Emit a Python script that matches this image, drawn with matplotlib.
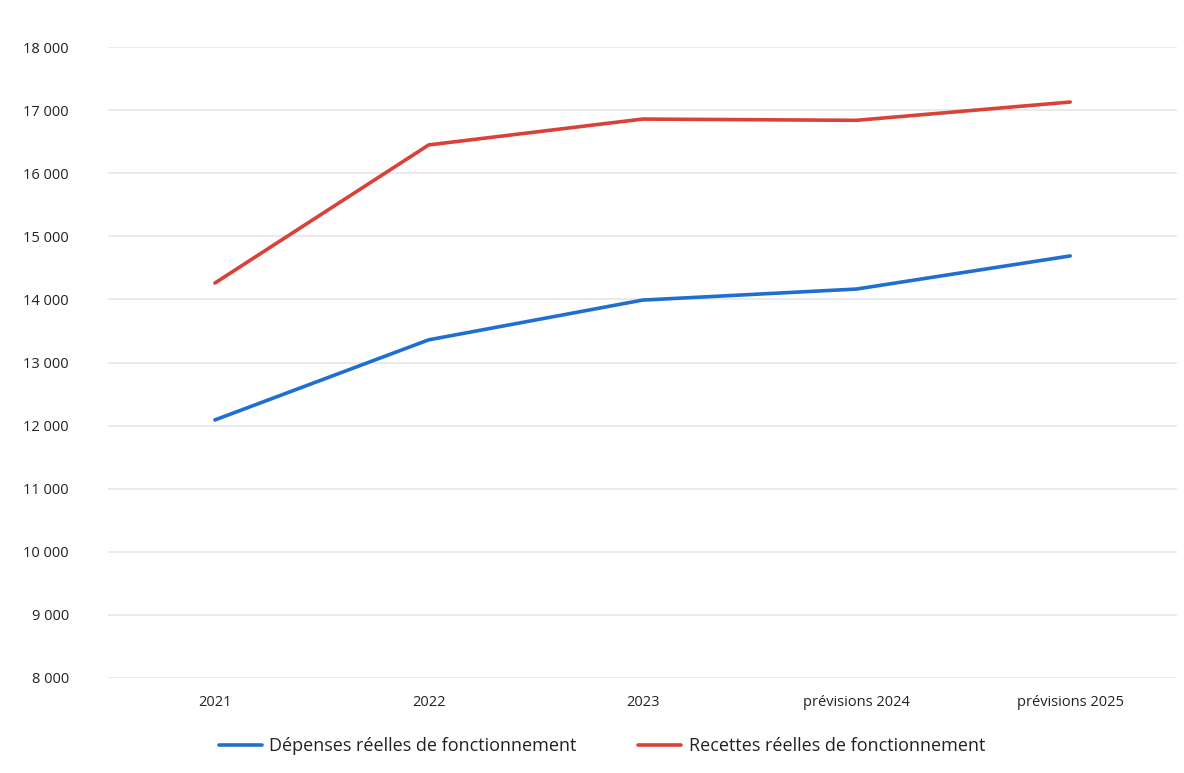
import matplotlib.pyplot as plt
from matplotlib.ticker import FuncFormatter

plt.rcParams['font.family'] = ['Open Sans', 'DejaVu Sans']

categories = ['2021', '2022', '2023', 'prévisions 2024', 'prévisions 2025']
depenses = [12090, 13360, 13990, 14165, 14690]
recettes = [14260, 16450, 16860, 16840, 17130]
yticks = [8000, 9000, 10000, 11000, 12000, 13000, 14000, 15000, 16000, 17000, 18000]

fig = plt.figure(figsize=(11.84, 7.73), dpi=100)
ax = fig.add_axes([0.0912, 0.123, 0.903, 0.816])

x = range(len(categories))
ax.plot(x, depenses, color='#1f6fd1', linewidth=2.6, label='Dépenses réelles de fonctionnement',
        solid_capstyle='round')
ax.plot(x, recettes, color='#d9413a', linewidth=2.6, label='Recettes réelles de fonctionnement',
        solid_capstyle='round')

ax.set_xlim(-0.5, len(categories) - 0.5)
ax.set_ylim(8000, 18000)
ax.set_yticks(yticks)
ax.yaxis.set_major_formatter(FuncFormatter(lambda v, p: f'{int(v):,}'.replace(',', ' ')))
ax.set_xticks(list(x))
ax.set_xticklabels(categories)

ax.grid(axis='y', color='#e6e6e6', linewidth=1.2)
ax.set_axisbelow(True)
for s in ax.spines.values():
    s.set_visible(False)
ax.tick_params(axis='both', length=0, labelsize=10.5, colors='#222222')
ax.tick_params(axis='y', pad=28)
ax.tick_params(axis='x', pad=12)

leg = ax.legend(loc='upper center', bbox_to_anchor=(0.462, -0.068), ncol=2, frameon=False,
                fontsize=13, handlelength=2.4, columnspacing=3.4, handletextpad=0.4)
for t in leg.get_texts():
    t.set_color('#222222')

fig.savefig('out.png', dpi=100, facecolor='white')
